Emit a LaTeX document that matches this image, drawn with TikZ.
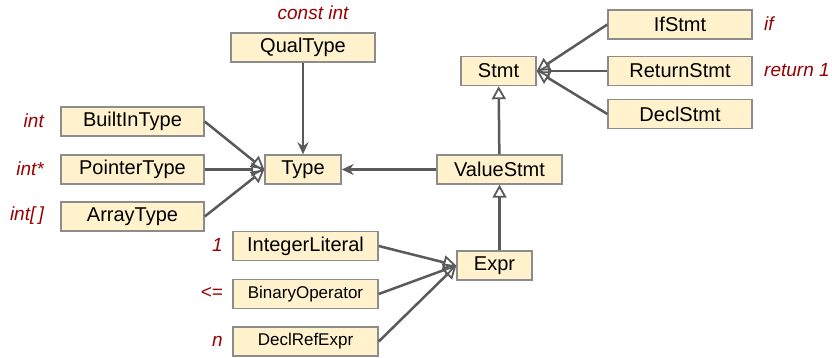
\documentclass[tikz,border=0pt]{standalone}
\usepackage{fontspec}
\setmainfont{Liberation Sans}
\usetikzlibrary{arrows.meta, positioning}

\definecolor{boxfill}{HTML}{FFF2CC}
\definecolor{boxline}{HTML}{8C8C8C}
\definecolor{wire}{HTML}{5A5A5A}
\definecolor{kw}{HTML}{990000}

\tikzset{
	cls/.style={draw=boxline, fill=boxfill, line width=1.4pt, inner sep=0pt,
		minimum height=29pt, font=\fontsize{20}{24}\selectfont},
	small/.style={font=\fontsize{17}{20}\selectfont},
	src/.style={text=kw, inner sep=0pt, font=\fontsize{19}{22}\selectfont\itshape},
	isa/.style={draw=wire, line width=2.5pt, -{Triangle[open, length=13pt, width=14pt, line width=1.8pt]}},
	uses/.style={draw=wire, line width=2.5pt, -{Stealth[length=12pt, width=11pt]}}
}

\begin{document}
\begin{tikzpicture}[x=1pt, y=-1pt]
	\useasboundingbox (0,0) rectangle (832,357);

	\node[cls, minimum width=144pt] (qt)  at (303,47.5)  {QualType};
	\node[cls, minimum width=143pt] (bit) at (132.5,121.5) {BuiltInType};
	\node[cls, minimum width=143pt] (pt)  at (132.5,169.5) {PointerType};
	\node[cls, minimum width=143pt] (at)  at (132.5,216.5) {ArrayType};
	\node[cls, minimum width=76pt]  (ty)  at (303,169.5)  {Type};
	\node[cls, minimum width=125pt] (vs)  at (499.5,169.5) {ValueStmt};
	\node[cls, minimum width=75pt]  (st)  at (498.5,71)   {Stmt};
	\node[cls, minimum width=144pt] (ifs) at (680,24.5)   {IfStmt};
	\node[cls, minimum width=144pt] (rs)  at (680,71)     {ReturnStmt};
	\node[cls, minimum width=144pt] (ds)  at (680,114)    {DeclStmt};
	\node[cls, minimum width=145pt] (il)  at (305.5,246)  {IntegerLiteral};
	\node[cls, small, minimum width=145pt] (bo) at (305.5,294) {BinaryOperator};
	\node[cls, small, minimum width=145pt] (dre) at (305.5,341.5) {DeclRefExpr};
	\node[cls, minimum width=75pt]  (ex)  at (494.5,265.5) {Expr};

	\node[src] (qtl)  at (313,13)   {const int};
	\node[src, anchor=east] (bitl) at (44,121)  {int};
	\node[src, anchor=east] (ptl)  at (44,169)  {int*};
	\node[src, anchor=east] (atl)  at (44,216)  {int[\,]};
	\node[src, anchor=east] (ill)  at (223,245) {1};
	\node[src, anchor=east] (bol)  at (223,293) {<=};
	\node[src, anchor=east] (drel) at (223,341) {n};
	\node[src, anchor=west] (ifl)  at (764,24)  {if};
	\node[src, anchor=west] (rsl)  at (764,70)  {return 1};

	\draw[uses] (qt) -- (ty);
	\draw[uses] (vs) -- (ty);

	\draw[isa] (bit.east) -- (ty.west);
	\draw[isa] (pt.east) -- (ty.west);
	\draw[isa] (at.east) -- (ty.west);

	\draw[isa] (ifs.west) -- (st.east);
	\draw[isa] (rs.west) -- (st.east);
	\draw[isa] (ds.west) -- (st.east);

	\draw[isa] (vs) -- (st);
	\draw[isa] (vs.south |- ex.north) -- (vs.south);

	\draw[isa] (il.east) -- (ex.west);
	\draw[isa] (bo.east) -- (ex.west);
	\draw[isa] (dre.east) -- (ex.west);
\end{tikzpicture}
\end{document}
